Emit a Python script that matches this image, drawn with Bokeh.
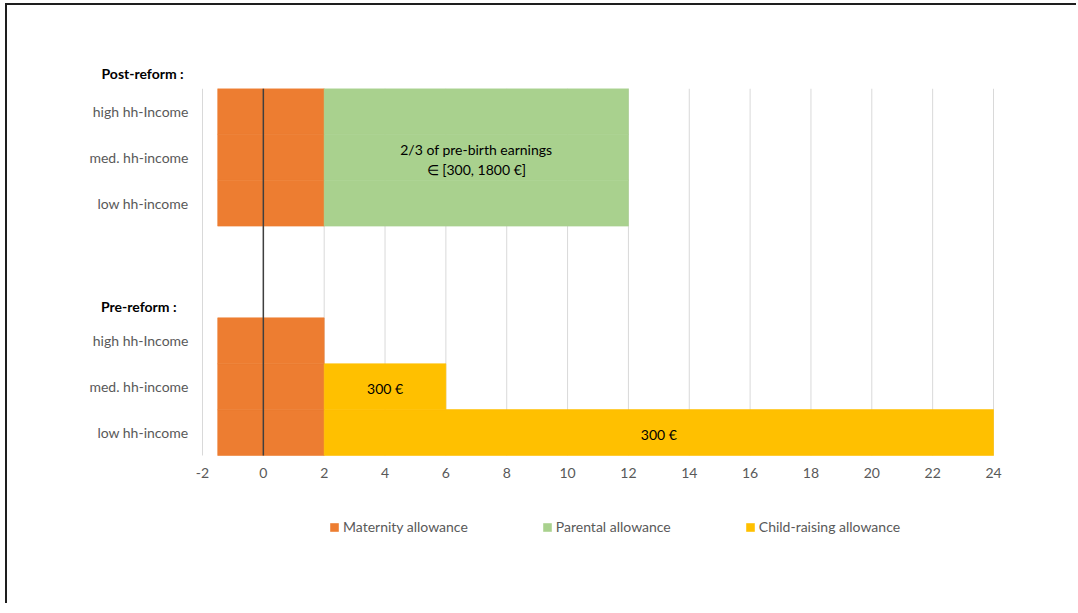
from bokeh.plotting import figure
from bokeh.models import (FixedTicker, Legend, LegendItem, LinearAxis,
                          ColumnDataSource)
from bokeh.embed import file_html
from bokeh.resources import INLINE
from bokeh.core.properties import value

# ---------------- data ----------------
row_names = ["low hh-income", "med. hh-income", "high hh-Income", "", "",
             "low hh-income", "med. hh-income", "high hh-Income"]
group_labels = ["Pre-reform :", "Post-reform :"]

series_names = ["Maternity allowance", "Parental allowance", "Child-raising allowance"]
series_colors = ["#ED7D31", "#A9D18E", "#FFC000"]

mat_rows = [0, 1, 2, 5, 6, 7]
mat_start = [-1.5, -1.5, -1.5, -1.5, -1.5, -1.5]
mat_end = [2, 2, 2, 2, 2, 2]

par_rows = [5, 6, 7]
par_start = [2, 2, 2]
par_end = [12, 12, 12]

chr_rows = [0, 1]
chr_start = [2, 2]
chr_end = [24, 6]

bar_text_series = [1, 2, 2]
bar_text_rows = [6, 1, 0]
bar_text = ["2/3 of pre-birth earnings\n\u2208 [300, 1800 \u20ac]", "300 \u20ac", "300 \u20ac"]

x_ticks = [-2, 0, 2, 4, 6, 8, 10, 12, 14, 16, 18, 20, 22, 24]

FONT = "Lato"
GRAY = "#595959"
N_ROWS = len(row_names)

# ---------------- figure ----------------
W, H = 1071, 600
PAD_X = 0.493           # room beside the first/last tick for their labels
Y_LOW = -2.398          # extra room under the bars for the legend
p = figure(width=W, height=H, output_backend="svg", toolbar_location=None,
           x_range=(x_ticks[0] - PAD_X, x_ticks[-1] + PAD_X),
           y_range=(Y_LOW, N_ROWS),
           title=group_labels[1],
           min_border_left=180, min_border_right=70,
           min_border_top=83, min_border_bottom=40,
           margin=(3, 0, 0, 5),
           styles={"border-top": "2px solid #1e1e1e",
                   "border-left": "2px solid #1e1e1e"})
p.outline_line_color = None
p.background_fill_color = "white"
p.border_fill_color = "white"
p.xgrid.grid_line_color = None
p.ygrid.grid_line_color = None

# "Post-reform :" heading as a left-shifted title
p.title.align = "left"
p.title.offset = -86
p.title.standoff = 13
p.title.text_font = FONT
p.title.text_font_size = "14px"
p.title.text_font_style = "bold"
p.title.text_color = "#000000"

# vertical gridlines over the bar area only
p.segment(x0=x_ticks, y0=[0] * len(x_ticks), x1=x_ticks,
          y1=[N_ROWS] * len(x_ticks), line_color="#d9d9d9", line_width=1)

segments = [(mat_rows, mat_start, mat_end),
            (par_rows, par_start, par_end),
            (chr_rows, chr_start, chr_end)]
renderers = []
for (rows, st, en), color in zip(segments, series_colors):
    src = ColumnDataSource(dict(y=[r + 0.5 for r in rows], left=st, right=en))
    r = p.hbar(y="y", left="left", right="right", height=1.0, source=src,
               fill_color=color, line_color=color, line_width=0.6)
    renderers.append(r)

tx, ty = [], []
for s, row in zip(bar_text_series, bar_text_rows):
    rows, st, en = segments[s]
    i = rows.index(row)
    tx.append((st[i] + en[i]) / 2)
    ty.append(row + 0.5)
tsrc = ColumnDataSource(dict(x=tx, y=ty, text=bar_text))
p.text(x="x", y="y", text="text", source=tsrc, text_align="center",
       text_baseline="middle", text_font=value(FONT), text_font_size="14px",
       text_color="#000000", text_line_height=1.19, y_offset=2)

# vertical axis line at 0 (over the bars)
p.segment(x0=[0], y0=[0], x1=[0], y1=[N_ROWS], line_color="#3f3f3f",
          line_width=1.5)

# x axis, pinned at y = 0
p.xaxis.fixed_location = 0
p.xaxis.ticker = FixedTicker(ticks=x_ticks)
p.xaxis.major_label_overrides = {t: str(t) for t in x_ticks}
p.xaxis.axis_line_color = None
p.xaxis.major_tick_line_color = None
p.xaxis.minor_tick_line_color = None
p.xaxis.major_tick_out = 0
p.xaxis.major_label_text_font = FONT
p.xaxis.major_label_text_font_size = "14px"
p.xaxis.major_label_text_color = GRAY
p.xaxis.major_label_standoff = 13

y_ticks = [i + 0.5 for i, n in enumerate(row_names) if n]
p.yaxis.ticker = FixedTicker(ticks=y_ticks)
p.yaxis.major_label_overrides = {i + 0.5: n for i, n in enumerate(row_names) if n}
p.yaxis.axis_line_color = None
p.yaxis.major_tick_line_color = None
p.yaxis.minor_tick_line_color = None
p.yaxis.major_tick_out = 0
p.yaxis.major_label_text_font = FONT
p.yaxis.major_label_text_font_size = "14px"
p.yaxis.major_label_text_color = GRAY
p.yaxis.major_label_standoff = -1

# "Pre-reform :" heading as an extra left axis with one tick
PRE_Y = 3.25
grp_axis = LinearAxis(ticker=FixedTicker(ticks=[PRE_Y]),
                      major_label_overrides={PRE_Y: group_labels[0]},
                      axis_line_color=None, major_tick_line_color=None,
                      minor_tick_line_color=None, major_tick_out=0,
                      major_label_standoff=-90,
                      major_label_text_font=FONT,
                      major_label_text_font_size="14px",
                      major_label_text_font_style="bold",
                      major_label_text_color="#000000")
p.add_layout(grp_axis, "left")

legend = Legend(items=[LegendItem(label=n, renderers=[r])
                       for n, r in zip(series_names, renderers)],
                orientation="horizontal", location=(142, 30),
                glyph_width=10, glyph_height=10, label_standoff=4,
                spacing=74, padding=0, margin=0,
                border_line_color=None, background_fill_alpha=0,
                label_text_font=FONT, label_text_font_size="14px",
                label_text_color=GRAY)
p.add_layout(legend, "center")

open("out.html", "w").write(file_html(p, INLINE))
